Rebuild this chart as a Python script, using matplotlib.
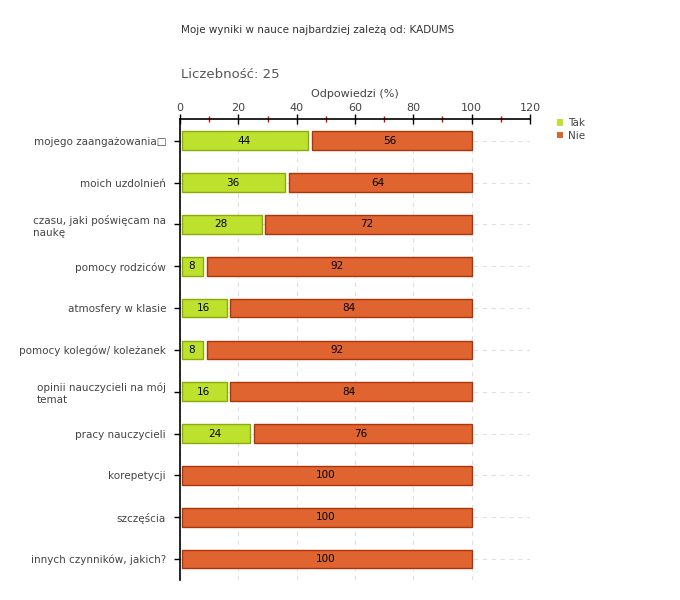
"""Moje wyniki w nauce - stacked horizontal bars Tak / Nie."""
import matplotlib
matplotlib.use("Agg")
import matplotlib.pyplot as plt
from matplotlib.patches import Patch

categories = ["mojego zaangażowania\u25a1", "moich uzdolnień", "czasu, jaki poświęcam na\nnaukę",
              "pomocy rodziców", "atmosfery w klasie", "pomocy kolegów/ koleżanek",
              "opinii nauczycieli na mój\ntemat", "pracy nauczycieli", "korepetycji",
              "szczęścia", "innych czynników, jakich?"]
tak = [44, 36, 28, 8, 16, 8, 16, 24, 0, 0, 0]
nie = [56, 64, 72, 92, 84, 92, 84, 76, 100, 100, 100]

GREEN, GREEN_EDGE = "#bee12e", "#8aab08"
ORANGE, ORANGE_EDGE = "#e06430", "#a8360a"
plt.rcParams["font.family"] = "DejaVu Sans"

fig = plt.figure(figsize=(6.8, 6.0), dpi=100, facecolor="white")
ax = fig.add_axes([180 / 680, 20 / 600, 350 / 680, 461 / 600])

y = list(range(len(categories)))
h = 0.45
for i in y:
    if tak[i] > 0:
        ax.barh(i, tak[i] - 0.6, left=0.6, height=h, color=GREEN, edgecolor=GREEN_EDGE, lw=1, zorder=3)
        ax.text(tak[i] / 2, i, str(tak[i]), ha="center", va="center", fontsize=7.5, zorder=4)
        start = tak[i] + 1.3
    else:
        start = 0.6
    ax.barh(i, tak[i] + nie[i] - start, left=start, height=h, color=ORANGE, edgecolor=ORANGE_EDGE, lw=1, zorder=3)
    ax.text(tak[i] + nie[i] / 2, i, str(nie[i]), ha="center", va="center", fontsize=7.5, zorder=4)

ax.set_xlim(0, 120)
ax.set_ylim(10.5, -0.52)
ax.xaxis.tick_top()
ax.xaxis.set_label_position("top")
ax.set_xticks(range(0, 121, 20))
ax.set_xticks(range(10, 120, 20), minor=True)
ax.tick_params(axis="x", which="major", direction="inout", length=7, width=1, colors="black",
               labelcolor="#444444", labelsize=8, pad=1)
ax.tick_params(axis="x", which="minor", direction="inout", length=5, width=1, colors="#e00000")
ax.set_xlabel("Odpowiedzi (%)", fontsize=8, color="#444444", labelpad=4)

ax.set_yticks(y)
ax.set_yticklabels(categories, fontsize=7.5, color="#444444", multialignment="left")
ax.tick_params(axis="y", direction="out", length=4, width=1, pad=6)

for s in ("right", "bottom"):
    ax.spines[s].set_visible(False)
ax.spines["left"].set_linewidth(1.2)
ax.spines["top"].set_linewidth(1.2)

ax.grid(axis="both", color="#e0e0e0", ls=(0, (4, 4)), lw=0.8, zorder=0)

handles = [Patch(facecolor=GREEN, edgecolor="none"), Patch(facecolor=ORANGE, edgecolor="none")]
fig.legend(handles, ["Tak", "Nie"], loc="upper left", bbox_to_anchor=(553 / 680, 1 - 114 / 600),
           frameon=False, fontsize=7.5, handlelength=0.6, handleheight=0.6, handletextpad=0.4,
           labelspacing=0.25, borderaxespad=0, labelcolor="#444444")

fig.text(181 / 680, 1 - 30 / 600, "Moje wyniki w nauce najbardziej zależą od: KADUMS",
         fontsize=7.5, color="#333333", va="center")
fig.text(181 / 680, 1 - 75 / 600, "Liczebność: 25", fontsize=9.5, color="#555555", va="center")

fig.savefig("out.png", dpi=100, facecolor="white")
